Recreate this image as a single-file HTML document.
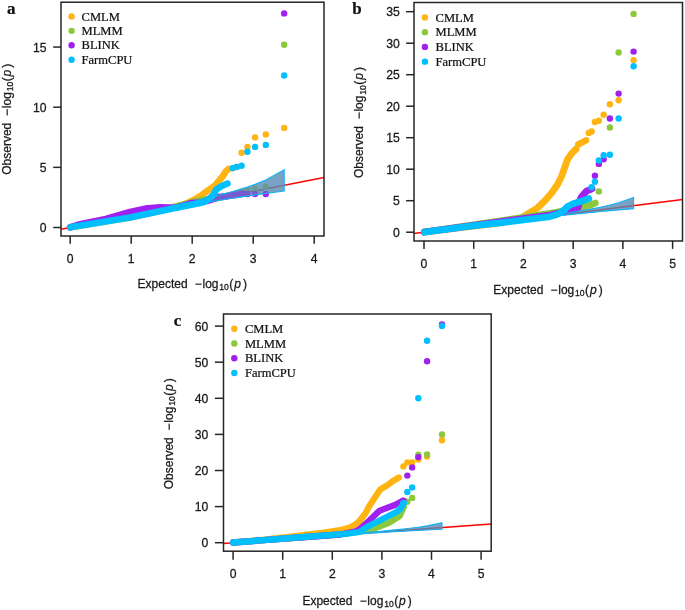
<!DOCTYPE html><html><head><meta charset="utf-8"><style>html,body{margin:0;padding:0;background:#fff;}svg{display:block;will-change:transform;}.t{font-family:"Liberation Sans",sans-serif;fill:#1a1a1a;stroke:#1a1a1a;stroke-width:0.28px;}.s{font-family:"Liberation Serif",serif;fill:#111;stroke:#111;stroke-width:0.22px;}</style></head><body>
<svg width="685" height="610" viewBox="0 0 685 610">
<rect width="685" height="610" fill="#fff"/>
<clipPath id="cla"><rect x="61" y="2.2" width="263" height="233.8"/></clipPath>
<g clip-path="url(#cla)">
<line x1="61" y1="229.31" x2="324" y2="177.45" stroke="#FF0000" stroke-width="1.5"/>
<polyline points="70.2,227.3 130,217.5 182,205.6 190,201.6 196,198.6 201.5,195.4 206,191.8 212,187.8 216,184.5 219.5,180 223,176 226,171 228.6,169" fill="none" stroke="#FFB412" stroke-width="6.6" stroke-linecap="round" stroke-linejoin="round"/>
<circle cx="284.18" cy="127.9" r="3.2" fill="#FFB412"/><circle cx="265.82" cy="134.4" r="3.2" fill="#FFB412"/><circle cx="255.07" cy="137.4" r="3.2" fill="#FFB412"/><circle cx="247.45" cy="146.9" r="3.2" fill="#FFB412"/><circle cx="241.54" cy="152.8" r="3.2" fill="#FFB412"/><circle cx="236.71" cy="167" r="3.2" fill="#FFB412"/><circle cx="232.63" cy="168.2" r="3.2" fill="#FFB412"/>
<polygon points="284.18,169.78 265.82,179.9 255.07,184.25 247.45,186.93 241.54,188.84 236.71,190.32 232.63,191.52 229.09,192.52 225.97,193.38 223.18,194.14 220.65,194.81 218.35,195.41 216.23,195.96 214.27,196.46 212.44,196.92 210.73,197.35 209.12,197.75 206.18,198.48 204.82,198.81 203.52,199.12 201.11,199.7 199.99,199.97 197.87,200.47 195.9,200.93 194.07,201.36 192.37,201.76 190.76,202.13 188.52,202.64 187.12,202.96 185.16,203.4 183.33,203.82 181.62,204.2 180.02,204.56 178.02,205.01 176.16,205.42 174.42,205.8 172.79,206.16 170.88,206.58 169.1,206.97 167.44,207.33 165.57,207.74 163.82,208.12 161.92,208.53 160.14,208.91 158.25,209.31 156.48,209.69 154.62,210.09 152.89,210.46 151.09,210.84 149.4,211.2 147.51,211.6 145.74,211.97 143.95,212.34 142.15,212.72 140.35,213.1 138.55,213.47 136.76,213.85 134.9,214.23 133.16,214.59 131.37,214.97 129.53,215.35 127.73,215.72 125.92,216.09 124.16,216.46 122.33,216.83 120.57,217.2 118.76,217.57 116.97,217.93 115.16,218.31 113.34,218.68 111.55,219.04 109.77,219.41 107.97,219.78 106.15,220.15 104.36,220.51 102.57,220.88 100.76,221.24 98.97,221.61 97.18,221.97 95.37,222.34 93.58,222.7 91.78,223.07 89.98,223.44 88.19,223.8 86.38,224.17 84.58,224.53 82.79,224.9 80.99,225.26 79.19,225.63 77.4,225.99 75.59,226.36 73.8,226.73 72,227.1 70.2,227.5 70.2,227.5 72,227.18 73.8,226.85 75.59,226.51 77.4,226.16 79.19,225.82 80.99,225.48 82.79,225.13 84.58,224.79 86.38,224.44 88.19,224.1 89.98,223.75 91.78,223.41 93.58,223.06 95.37,222.72 97.18,222.38 98.97,222.03 100.76,221.69 102.57,221.35 104.36,221 106.15,220.66 107.97,220.31 109.77,219.97 111.55,219.63 113.34,219.29 115.16,218.95 116.97,218.6 118.76,218.26 120.57,217.92 122.33,217.58 124.16,217.24 125.92,216.91 127.73,216.56 129.53,216.23 131.37,215.88 133.16,215.54 134.9,215.22 136.76,214.87 138.55,214.53 140.35,214.2 142.15,213.86 143.95,213.52 145.74,213.19 147.51,212.86 149.4,212.51 151.09,212.2 152.89,211.87 154.62,211.55 156.48,211.21 158.25,210.88 160.14,210.54 161.92,210.21 163.82,209.87 165.57,209.55 167.44,209.21 169.1,208.91 170.88,208.59 172.79,208.25 174.42,207.96 176.16,207.65 178.02,207.31 180.02,206.96 181.62,206.68 183.33,206.37 185.16,206.05 187.12,205.71 188.52,205.47 190.76,205.08 192.37,204.8 194.07,204.5 195.9,204.19 197.87,203.86 199.99,203.49 201.11,203.3 203.52,202.9 204.82,202.68 206.18,202.45 209.12,201.96 210.73,201.7 212.44,201.42 214.27,201.12 216.23,200.8 218.35,200.46 220.65,200.09 223.18,199.68 225.97,199.24 229.09,198.76 232.63,198.21 236.71,197.59 241.54,196.86 247.45,196 255.07,194.91 265.82,193.43 284.18,191.03" fill="rgba(88,140,182,0.33)" stroke="none"/>
<polyline points="70.2,227.3 150,213 201.3,200 215,198.5 230,195.5 242,192.5" fill="none" stroke="#8CC83C" stroke-width="6.6" stroke-linecap="round" stroke-linejoin="round"/>
<circle cx="284.18" cy="44.7" r="3.2" fill="#8CC83C"/><circle cx="265.82" cy="186.8" r="3.2" fill="#8CC83C"/><circle cx="255.07" cy="188.8" r="3.2" fill="#8CC83C"/><circle cx="247.45" cy="190.1" r="3.2" fill="#8CC83C"/>
<polygon points="284.18,169.78 265.82,179.9 255.07,184.25 247.45,186.93 241.54,188.84 236.71,190.32 232.63,191.52 229.09,192.52 225.97,193.38 223.18,194.14 220.65,194.81 218.35,195.41 216.23,195.96 214.27,196.46 212.44,196.92 210.73,197.35 209.12,197.75 206.18,198.48 204.82,198.81 203.52,199.12 201.11,199.7 199.99,199.97 197.87,200.47 195.9,200.93 194.07,201.36 192.37,201.76 190.76,202.13 188.52,202.64 187.12,202.96 185.16,203.4 183.33,203.82 181.62,204.2 180.02,204.56 178.02,205.01 176.16,205.42 174.42,205.8 172.79,206.16 170.88,206.58 169.1,206.97 167.44,207.33 165.57,207.74 163.82,208.12 161.92,208.53 160.14,208.91 158.25,209.31 156.48,209.69 154.62,210.09 152.89,210.46 151.09,210.84 149.4,211.2 147.51,211.6 145.74,211.97 143.95,212.34 142.15,212.72 140.35,213.1 138.55,213.47 136.76,213.85 134.9,214.23 133.16,214.59 131.37,214.97 129.53,215.35 127.73,215.72 125.92,216.09 124.16,216.46 122.33,216.83 120.57,217.2 118.76,217.57 116.97,217.93 115.16,218.31 113.34,218.68 111.55,219.04 109.77,219.41 107.97,219.78 106.15,220.15 104.36,220.51 102.57,220.88 100.76,221.24 98.97,221.61 97.18,221.97 95.37,222.34 93.58,222.7 91.78,223.07 89.98,223.44 88.19,223.8 86.38,224.17 84.58,224.53 82.79,224.9 80.99,225.26 79.19,225.63 77.4,225.99 75.59,226.36 73.8,226.73 72,227.1 70.2,227.5 70.2,227.5 72,227.18 73.8,226.85 75.59,226.51 77.4,226.16 79.19,225.82 80.99,225.48 82.79,225.13 84.58,224.79 86.38,224.44 88.19,224.1 89.98,223.75 91.78,223.41 93.58,223.06 95.37,222.72 97.18,222.38 98.97,222.03 100.76,221.69 102.57,221.35 104.36,221 106.15,220.66 107.97,220.31 109.77,219.97 111.55,219.63 113.34,219.29 115.16,218.95 116.97,218.6 118.76,218.26 120.57,217.92 122.33,217.58 124.16,217.24 125.92,216.91 127.73,216.56 129.53,216.23 131.37,215.88 133.16,215.54 134.9,215.22 136.76,214.87 138.55,214.53 140.35,214.2 142.15,213.86 143.95,213.52 145.74,213.19 147.51,212.86 149.4,212.51 151.09,212.2 152.89,211.87 154.62,211.55 156.48,211.21 158.25,210.88 160.14,210.54 161.92,210.21 163.82,209.87 165.57,209.55 167.44,209.21 169.1,208.91 170.88,208.59 172.79,208.25 174.42,207.96 176.16,207.65 178.02,207.31 180.02,206.96 181.62,206.68 183.33,206.37 185.16,206.05 187.12,205.71 188.52,205.47 190.76,205.08 192.37,204.8 194.07,204.5 195.9,204.19 197.87,203.86 199.99,203.49 201.11,203.3 203.52,202.9 204.82,202.68 206.18,202.45 209.12,201.96 210.73,201.7 212.44,201.42 214.27,201.12 216.23,200.8 218.35,200.46 220.65,200.09 223.18,199.68 225.97,199.24 229.09,198.76 232.63,198.21 236.71,197.59 241.54,196.86 247.45,196 255.07,194.91 265.82,193.43 284.18,191.03" fill="rgba(88,140,182,0.33)" stroke="none"/>
<polyline points="70.2,227.3 80,224.2 105.9,218.9 130,211.9 147.4,208.3 160.7,207.3 176,207.8 183.1,205.8 191.3,203 200,202.5 208.3,200.5 219,197 230,195.8 244.2,193.6" fill="none" stroke="#A020F0" stroke-width="6.6" stroke-linecap="round" stroke-linejoin="round"/>
<circle cx="284.18" cy="13.4" r="3.2" fill="#A020F0"/><circle cx="265.82" cy="194" r="3.2" fill="#A020F0"/><circle cx="255.07" cy="194" r="3.2" fill="#A020F0"/><circle cx="247.45" cy="194" r="3.2" fill="#A020F0"/><circle cx="241.54" cy="193.6" r="3.2" fill="#A020F0"/>
<polygon points="284.18,169.78 265.82,179.9 255.07,184.25 247.45,186.93 241.54,188.84 236.71,190.32 232.63,191.52 229.09,192.52 225.97,193.38 223.18,194.14 220.65,194.81 218.35,195.41 216.23,195.96 214.27,196.46 212.44,196.92 210.73,197.35 209.12,197.75 206.18,198.48 204.82,198.81 203.52,199.12 201.11,199.7 199.99,199.97 197.87,200.47 195.9,200.93 194.07,201.36 192.37,201.76 190.76,202.13 188.52,202.64 187.12,202.96 185.16,203.4 183.33,203.82 181.62,204.2 180.02,204.56 178.02,205.01 176.16,205.42 174.42,205.8 172.79,206.16 170.88,206.58 169.1,206.97 167.44,207.33 165.57,207.74 163.82,208.12 161.92,208.53 160.14,208.91 158.25,209.31 156.48,209.69 154.62,210.09 152.89,210.46 151.09,210.84 149.4,211.2 147.51,211.6 145.74,211.97 143.95,212.34 142.15,212.72 140.35,213.1 138.55,213.47 136.76,213.85 134.9,214.23 133.16,214.59 131.37,214.97 129.53,215.35 127.73,215.72 125.92,216.09 124.16,216.46 122.33,216.83 120.57,217.2 118.76,217.57 116.97,217.93 115.16,218.31 113.34,218.68 111.55,219.04 109.77,219.41 107.97,219.78 106.15,220.15 104.36,220.51 102.57,220.88 100.76,221.24 98.97,221.61 97.18,221.97 95.37,222.34 93.58,222.7 91.78,223.07 89.98,223.44 88.19,223.8 86.38,224.17 84.58,224.53 82.79,224.9 80.99,225.26 79.19,225.63 77.4,225.99 75.59,226.36 73.8,226.73 72,227.1 70.2,227.5 70.2,227.5 72,227.18 73.8,226.85 75.59,226.51 77.4,226.16 79.19,225.82 80.99,225.48 82.79,225.13 84.58,224.79 86.38,224.44 88.19,224.1 89.98,223.75 91.78,223.41 93.58,223.06 95.37,222.72 97.18,222.38 98.97,222.03 100.76,221.69 102.57,221.35 104.36,221 106.15,220.66 107.97,220.31 109.77,219.97 111.55,219.63 113.34,219.29 115.16,218.95 116.97,218.6 118.76,218.26 120.57,217.92 122.33,217.58 124.16,217.24 125.92,216.91 127.73,216.56 129.53,216.23 131.37,215.88 133.16,215.54 134.9,215.22 136.76,214.87 138.55,214.53 140.35,214.2 142.15,213.86 143.95,213.52 145.74,213.19 147.51,212.86 149.4,212.51 151.09,212.2 152.89,211.87 154.62,211.55 156.48,211.21 158.25,210.88 160.14,210.54 161.92,210.21 163.82,209.87 165.57,209.55 167.44,209.21 169.1,208.91 170.88,208.59 172.79,208.25 174.42,207.96 176.16,207.65 178.02,207.31 180.02,206.96 181.62,206.68 183.33,206.37 185.16,206.05 187.12,205.71 188.52,205.47 190.76,205.08 192.37,204.8 194.07,204.5 195.9,204.19 197.87,203.86 199.99,203.49 201.11,203.3 203.52,202.9 204.82,202.68 206.18,202.45 209.12,201.96 210.73,201.7 212.44,201.42 214.27,201.12 216.23,200.8 218.35,200.46 220.65,200.09 223.18,199.68 225.97,199.24 229.09,198.76 232.63,198.21 236.71,197.59 241.54,196.86 247.45,196 255.07,194.91 265.82,193.43 284.18,191.03" fill="rgba(88,140,182,0.33)" stroke="none"/>
<polygon points="284.18,169.78 265.82,179.9 255.07,184.25 247.45,186.93 241.54,188.84 236.71,190.32 232.63,191.52 229.09,192.52 225.97,193.38 223.18,194.14 220.65,194.81 218.35,195.41 216.23,195.96 214.27,196.46 212.44,196.92 210.73,197.35 209.12,197.75 206.18,198.48 204.82,198.81 203.52,199.12 201.11,199.7 199.99,199.97 197.87,200.47 195.9,200.93 194.07,201.36 192.37,201.76 190.76,202.13 188.52,202.64 187.12,202.96 185.16,203.4 183.33,203.82 181.62,204.2 180.02,204.56 178.02,205.01 176.16,205.42 174.42,205.8 172.79,206.16 170.88,206.58 169.1,206.97 167.44,207.33 165.57,207.74 163.82,208.12 161.92,208.53 160.14,208.91 158.25,209.31 156.48,209.69 154.62,210.09 152.89,210.46 151.09,210.84 149.4,211.2 147.51,211.6 145.74,211.97 143.95,212.34 142.15,212.72 140.35,213.1 138.55,213.47 136.76,213.85 134.9,214.23 133.16,214.59 131.37,214.97 129.53,215.35 127.73,215.72 125.92,216.09 124.16,216.46 122.33,216.83 120.57,217.2 118.76,217.57 116.97,217.93 115.16,218.31 113.34,218.68 111.55,219.04 109.77,219.41 107.97,219.78 106.15,220.15 104.36,220.51 102.57,220.88 100.76,221.24 98.97,221.61 97.18,221.97 95.37,222.34 93.58,222.7 91.78,223.07 89.98,223.44 88.19,223.8 86.38,224.17 84.58,224.53 82.79,224.9 80.99,225.26 79.19,225.63 77.4,225.99 75.59,226.36 73.8,226.73 72,227.1 70.2,227.5 70.2,227.5 72,227.18 73.8,226.85 75.59,226.51 77.4,226.16 79.19,225.82 80.99,225.48 82.79,225.13 84.58,224.79 86.38,224.44 88.19,224.1 89.98,223.75 91.78,223.41 93.58,223.06 95.37,222.72 97.18,222.38 98.97,222.03 100.76,221.69 102.57,221.35 104.36,221 106.15,220.66 107.97,220.31 109.77,219.97 111.55,219.63 113.34,219.29 115.16,218.95 116.97,218.6 118.76,218.26 120.57,217.92 122.33,217.58 124.16,217.24 125.92,216.91 127.73,216.56 129.53,216.23 131.37,215.88 133.16,215.54 134.9,215.22 136.76,214.87 138.55,214.53 140.35,214.2 142.15,213.86 143.95,213.52 145.74,213.19 147.51,212.86 149.4,212.51 151.09,212.2 152.89,211.87 154.62,211.55 156.48,211.21 158.25,210.88 160.14,210.54 161.92,210.21 163.82,209.87 165.57,209.55 167.44,209.21 169.1,208.91 170.88,208.59 172.79,208.25 174.42,207.96 176.16,207.65 178.02,207.31 180.02,206.96 181.62,206.68 183.33,206.37 185.16,206.05 187.12,205.71 188.52,205.47 190.76,205.08 192.37,204.8 194.07,204.5 195.9,204.19 197.87,203.86 199.99,203.49 201.11,203.3 203.52,202.9 204.82,202.68 206.18,202.45 209.12,201.96 210.73,201.7 212.44,201.42 214.27,201.12 216.23,200.8 218.35,200.46 220.65,200.09 223.18,199.68 225.97,199.24 229.09,198.76 232.63,198.21 236.71,197.59 241.54,196.86 247.45,196 255.07,194.91 265.82,193.43 284.18,191.03" fill="rgba(88,140,182,0.33)" stroke="#12B4F4" stroke-width="1.1"/>
<polyline points="70.2,227.3 130,217.4 175,208 190,205.1 200,203.1 205,201.5 210.5,197.6 214,194 216.2,189.5 221.4,186.3 227.5,183.6" fill="none" stroke="#00BFFF" stroke-width="6.6" stroke-linecap="round" stroke-linejoin="round"/>
<circle cx="284.18" cy="75.4" r="3.2" fill="#00BFFF"/><circle cx="265.82" cy="144.9" r="3.2" fill="#00BFFF"/><circle cx="255.07" cy="146.9" r="3.2" fill="#00BFFF"/><circle cx="247.45" cy="151.7" r="3.2" fill="#00BFFF"/><circle cx="241.54" cy="165.7" r="3.2" fill="#00BFFF"/><circle cx="236.71" cy="166.9" r="3.2" fill="#00BFFF"/><circle cx="232.63" cy="168.1" r="3.2" fill="#00BFFF"/>
</g>
<rect x="61" y="2.2" width="263" height="233.8" fill="none" stroke="#262626" stroke-width="1.5"/>
<line x1="70.2" y1="236" x2="70.2" y2="243.8" stroke="#262626" stroke-width="1.5"/>
<text class="t" x="70.2" y="262.6" font-size="12.2" text-anchor="middle">0</text>
<line x1="131.2" y1="236" x2="131.2" y2="243.8" stroke="#262626" stroke-width="1.5"/>
<text class="t" x="131.2" y="262.6" font-size="12.2" text-anchor="middle">1</text>
<line x1="192.2" y1="236" x2="192.2" y2="243.8" stroke="#262626" stroke-width="1.5"/>
<text class="t" x="192.2" y="262.6" font-size="12.2" text-anchor="middle">2</text>
<line x1="253.2" y1="236" x2="253.2" y2="243.8" stroke="#262626" stroke-width="1.5"/>
<text class="t" x="253.2" y="262.6" font-size="12.2" text-anchor="middle">3</text>
<line x1="314.2" y1="236" x2="314.2" y2="243.8" stroke="#262626" stroke-width="1.5"/>
<text class="t" x="314.2" y="262.6" font-size="12.2" text-anchor="middle">4</text>
<line x1="53.2" y1="227.5" x2="61" y2="227.5" stroke="#262626" stroke-width="1.5"/>
<text class="t" x="46.6" y="232.1" font-size="12.2" text-anchor="end">0</text>
<line x1="53.2" y1="167.35" x2="61" y2="167.35" stroke="#262626" stroke-width="1.5"/>
<text class="t" x="46.6" y="171.95" font-size="12.2" text-anchor="end">5</text>
<line x1="53.2" y1="107.2" x2="61" y2="107.2" stroke="#262626" stroke-width="1.5"/>
<text class="t" x="46.6" y="111.8" font-size="12.2" text-anchor="end">10</text>
<line x1="53.2" y1="47.05" x2="61" y2="47.05" stroke="#262626" stroke-width="1.5"/>
<text class="t" x="46.6" y="51.65" font-size="12.2" text-anchor="end">15</text>
<g class="t" font-size="12.0" transform="translate(138.5,288)"><text x="-0.98" y="0">Expected</text><text x="56.31" y="0">−</text><text x="64" y="0">log</text><text x="80.85" y="2.3" font-size="8.6">10</text><text x="90.86" y="0">(</text><text x="95.7" y="0" font-style="italic">p</text><text x="104.45" y="0">)</text></g>
<g class="t" font-size="12.0" transform="translate(11.1,174.2) rotate(-90)"><text x="-0.56" y="0">Observed</text><text x="58.31" y="0">−</text><text x="66" y="0">log</text><text x="82.85" y="2.3" font-size="8.6">10</text><text x="92.86" y="0">(</text><text x="97.7" y="0" font-style="italic">p</text><text x="106.45" y="0">)</text></g>
<circle cx="71.6" cy="16.4" r="3.2" fill="#FFB412"/>
<text class="s" font-size="12.2" transform="translate(81.5,20.6) scale(1.03,1)">CMLM</text>
<circle cx="71.6" cy="30.83" r="3.2" fill="#8CC83C"/>
<text class="s" font-size="12.2" transform="translate(81.5,35.03) scale(1.03,1)">MLMM</text>
<circle cx="71.6" cy="45.26" r="3.2" fill="#A020F0"/>
<text class="s" font-size="12.2" transform="translate(81.5,49.46) scale(1.03,1)">BLINK</text>
<circle cx="71.6" cy="59.69" r="3.2" fill="#00BFFF"/>
<text class="s" font-size="12.2" transform="translate(81.5,63.89) scale(1.03,1)">FarmCPU</text>
<text class="s" x="6.9" y="13.6" font-size="17" font-weight="bold">a</text>
<clipPath id="clb"><rect x="414" y="2.5" width="268.5" height="238.5"/></clipPath>
<g clip-path="url(#clb)">
<line x1="414" y1="233.47" x2="682.5" y2="199.45" stroke="#FF0000" stroke-width="1.5"/>
<polyline points="424.4,232 500,222.8 520,218.8 527,214.5 538,207.5 545.5,200 552,192.5 557.5,184.5 561.5,176.5 564.5,168 567.5,159.5 571.5,153.6 576.1,149" fill="none" stroke="#FFB412" stroke-width="6.8" stroke-linecap="round" stroke-linejoin="round"/>
<circle cx="633.6" cy="60.1" r="3.2" fill="#FFB412"/><circle cx="618.64" cy="100.2" r="3.2" fill="#FFB412"/><circle cx="609.88" cy="104.3" r="3.2" fill="#FFB412"/><circle cx="603.67" cy="114.7" r="3.2" fill="#FFB412"/><circle cx="598.85" cy="120.8" r="3.2" fill="#FFB412"/><circle cx="594.91" cy="122" r="3.2" fill="#FFB412"/><circle cx="591.58" cy="131.5" r="3.2" fill="#FFB412"/><circle cx="588.7" cy="132.9" r="3.2" fill="#FFB412"/><circle cx="586.16" cy="140.3" r="3.2" fill="#FFB412"/><circle cx="583.88" cy="141.5" r="3.2" fill="#FFB412"/><circle cx="581.82" cy="142.6" r="3.2" fill="#FFB412"/><circle cx="579.95" cy="143.5" r="3.2" fill="#FFB412"/><circle cx="578.22" cy="144.4" r="3.2" fill="#FFB412"/>
<polygon points="633.6,197.51 618.64,202.81 609.88,205.09 603.67,206.5 598.85,207.5 594.91,208.27 591.58,208.9 588.7,209.42 586.16,209.87 583.88,210.27 581.82,210.62 579.95,210.94 578.22,211.22 576.62,211.49 575.13,211.73 573.73,211.95 572.42,212.16 570.02,212.54 568.92,212.71 566.86,213.03 564.98,213.32 563.25,213.58 561.65,213.82 559.45,214.15 558.1,214.35 556.22,214.63 554.5,214.89 552.39,215.19 550.93,215.4 549.13,215.66 547.47,215.9 545.56,216.17 543.8,216.42 541.86,216.7 540.37,216.91 538.45,217.17 536.68,217.42 535.04,217.65 533.11,217.92 531.52,218.13 529.69,218.39 527.84,218.64 526.14,218.87 524.42,219.1 522.58,219.35 520.88,219.58 519.09,219.82 517.33,220.06 515.62,220.29 513.87,220.53 512.08,220.76 510.3,221 508.51,221.24 506.81,221.47 505,221.7 503.28,221.93 501.49,222.17 499.76,222.4 497.99,222.63 496.21,222.86 494.45,223.09 492.71,223.32 490.94,223.55 489.18,223.78 487.4,224.02 485.64,224.24 483.89,224.47 482.13,224.7 480.36,224.93 478.6,225.16 476.84,225.39 475.08,225.62 473.32,225.85 471.56,226.07 469.79,226.3 468.03,226.53 466.27,226.76 464.51,226.98 462.75,227.21 460.99,227.44 459.23,227.66 457.47,227.89 455.71,228.12 453.94,228.34 452.18,228.57 450.42,228.8 448.66,229.02 446.9,229.25 445.14,229.48 443.37,229.7 441.61,229.93 439.85,230.15 438.09,230.38 436.33,230.61 434.57,230.83 432.81,231.06 431.04,231.29 429.28,231.51 427.52,231.74 425.76,231.97 424,232.2 424,232.2 425.76,231.99 427.52,231.77 429.28,231.55 431.04,231.33 432.81,231.11 434.57,230.89 436.33,230.67 438.09,230.45 439.85,230.23 441.61,230.01 443.37,229.79 445.14,229.57 446.9,229.35 448.66,229.13 450.42,228.91 452.18,228.69 453.94,228.47 455.71,228.25 457.47,228.03 459.23,227.81 460.99,227.59 462.75,227.37 464.51,227.15 466.27,226.93 468.03,226.71 469.79,226.49 471.56,226.27 473.32,226.05 475.08,225.84 476.84,225.62 478.6,225.4 480.36,225.18 482.13,224.96 483.89,224.75 485.64,224.53 487.4,224.31 489.18,224.09 490.94,223.88 492.71,223.66 494.45,223.45 496.21,223.23 497.99,223.01 499.76,222.8 501.49,222.58 503.28,222.37 505,222.16 506.81,221.94 508.51,221.73 510.3,221.51 512.08,221.3 513.87,221.08 515.62,220.87 517.33,220.67 519.09,220.46 520.88,220.24 522.58,220.04 524.42,219.82 526.14,219.62 527.84,219.41 529.69,219.2 531.52,218.98 533.11,218.79 535.04,218.57 536.68,218.38 538.45,218.17 540.37,217.95 541.86,217.77 543.8,217.55 545.56,217.35 547.47,217.13 549.13,216.94 550.93,216.74 552.39,216.57 554.5,216.33 556.22,216.14 558.1,215.93 559.45,215.78 561.65,215.54 563.25,215.36 564.98,215.17 566.86,214.97 568.92,214.75 570.02,214.63 572.42,214.37 573.73,214.23 575.13,214.08 576.62,213.93 578.22,213.76 579.95,213.58 581.82,213.39 583.88,213.18 586.16,212.95 588.7,212.69 591.58,212.4 594.91,212.08 598.85,211.7 603.67,211.24 609.88,210.67 618.64,209.9 633.6,208.64" fill="rgba(88,140,182,0.33)" stroke="none"/>
<polyline points="424.4,232 470,225.3 550,213.4 560,211.5 570,209.8 583.9,206.8 589.6,205.2 595.3,203.1" fill="none" stroke="#8CC83C" stroke-width="6.8" stroke-linecap="round" stroke-linejoin="round"/>
<circle cx="633.6" cy="13.9" r="3.2" fill="#8CC83C"/><circle cx="618.64" cy="52.5" r="3.2" fill="#8CC83C"/><circle cx="609.88" cy="127.5" r="3.2" fill="#8CC83C"/><circle cx="598.85" cy="191.4" r="3.2" fill="#8CC83C"/>
<polygon points="633.6,197.51 618.64,202.81 609.88,205.09 603.67,206.5 598.85,207.5 594.91,208.27 591.58,208.9 588.7,209.42 586.16,209.87 583.88,210.27 581.82,210.62 579.95,210.94 578.22,211.22 576.62,211.49 575.13,211.73 573.73,211.95 572.42,212.16 570.02,212.54 568.92,212.71 566.86,213.03 564.98,213.32 563.25,213.58 561.65,213.82 559.45,214.15 558.1,214.35 556.22,214.63 554.5,214.89 552.39,215.19 550.93,215.4 549.13,215.66 547.47,215.9 545.56,216.17 543.8,216.42 541.86,216.7 540.37,216.91 538.45,217.17 536.68,217.42 535.04,217.65 533.11,217.92 531.52,218.13 529.69,218.39 527.84,218.64 526.14,218.87 524.42,219.1 522.58,219.35 520.88,219.58 519.09,219.82 517.33,220.06 515.62,220.29 513.87,220.53 512.08,220.76 510.3,221 508.51,221.24 506.81,221.47 505,221.7 503.28,221.93 501.49,222.17 499.76,222.4 497.99,222.63 496.21,222.86 494.45,223.09 492.71,223.32 490.94,223.55 489.18,223.78 487.4,224.02 485.64,224.24 483.89,224.47 482.13,224.7 480.36,224.93 478.6,225.16 476.84,225.39 475.08,225.62 473.32,225.85 471.56,226.07 469.79,226.3 468.03,226.53 466.27,226.76 464.51,226.98 462.75,227.21 460.99,227.44 459.23,227.66 457.47,227.89 455.71,228.12 453.94,228.34 452.18,228.57 450.42,228.8 448.66,229.02 446.9,229.25 445.14,229.48 443.37,229.7 441.61,229.93 439.85,230.15 438.09,230.38 436.33,230.61 434.57,230.83 432.81,231.06 431.04,231.29 429.28,231.51 427.52,231.74 425.76,231.97 424,232.2 424,232.2 425.76,231.99 427.52,231.77 429.28,231.55 431.04,231.33 432.81,231.11 434.57,230.89 436.33,230.67 438.09,230.45 439.85,230.23 441.61,230.01 443.37,229.79 445.14,229.57 446.9,229.35 448.66,229.13 450.42,228.91 452.18,228.69 453.94,228.47 455.71,228.25 457.47,228.03 459.23,227.81 460.99,227.59 462.75,227.37 464.51,227.15 466.27,226.93 468.03,226.71 469.79,226.49 471.56,226.27 473.32,226.05 475.08,225.84 476.84,225.62 478.6,225.4 480.36,225.18 482.13,224.96 483.89,224.75 485.64,224.53 487.4,224.31 489.18,224.09 490.94,223.88 492.71,223.66 494.45,223.45 496.21,223.23 497.99,223.01 499.76,222.8 501.49,222.58 503.28,222.37 505,222.16 506.81,221.94 508.51,221.73 510.3,221.51 512.08,221.3 513.87,221.08 515.62,220.87 517.33,220.67 519.09,220.46 520.88,220.24 522.58,220.04 524.42,219.82 526.14,219.62 527.84,219.41 529.69,219.2 531.52,218.98 533.11,218.79 535.04,218.57 536.68,218.38 538.45,218.17 540.37,217.95 541.86,217.77 543.8,217.55 545.56,217.35 547.47,217.13 549.13,216.94 550.93,216.74 552.39,216.57 554.5,216.33 556.22,216.14 558.1,215.93 559.45,215.78 561.65,215.54 563.25,215.36 564.98,215.17 566.86,214.97 568.92,214.75 570.02,214.63 572.42,214.37 573.73,214.23 575.13,214.08 576.62,213.93 578.22,213.76 579.95,213.58 581.82,213.39 583.88,213.18 586.16,212.95 588.7,212.69 591.58,212.4 594.91,212.08 598.85,211.7 603.67,211.24 609.88,210.67 618.64,209.9 633.6,208.64" fill="rgba(88,140,182,0.33)" stroke="none"/>
<polyline points="424.4,232 470,225.8 550,215 566,211.5 573,209.5 578,207.5 580,200 581.4,197 586.3,191.2 592,188.8" fill="none" stroke="#A020F0" stroke-width="6.8" stroke-linecap="round" stroke-linejoin="round"/>
<circle cx="633.6" cy="51.6" r="3.2" fill="#A020F0"/><circle cx="618.64" cy="93.6" r="3.2" fill="#A020F0"/><circle cx="609.88" cy="118.5" r="3.2" fill="#A020F0"/><circle cx="603.67" cy="159.3" r="3.2" fill="#A020F0"/><circle cx="598.85" cy="163.9" r="3.2" fill="#A020F0"/><circle cx="594.91" cy="175.7" r="3.2" fill="#A020F0"/>
<polygon points="633.6,197.51 618.64,202.81 609.88,205.09 603.67,206.5 598.85,207.5 594.91,208.27 591.58,208.9 588.7,209.42 586.16,209.87 583.88,210.27 581.82,210.62 579.95,210.94 578.22,211.22 576.62,211.49 575.13,211.73 573.73,211.95 572.42,212.16 570.02,212.54 568.92,212.71 566.86,213.03 564.98,213.32 563.25,213.58 561.65,213.82 559.45,214.15 558.1,214.35 556.22,214.63 554.5,214.89 552.39,215.19 550.93,215.4 549.13,215.66 547.47,215.9 545.56,216.17 543.8,216.42 541.86,216.7 540.37,216.91 538.45,217.17 536.68,217.42 535.04,217.65 533.11,217.92 531.52,218.13 529.69,218.39 527.84,218.64 526.14,218.87 524.42,219.1 522.58,219.35 520.88,219.58 519.09,219.82 517.33,220.06 515.62,220.29 513.87,220.53 512.08,220.76 510.3,221 508.51,221.24 506.81,221.47 505,221.7 503.28,221.93 501.49,222.17 499.76,222.4 497.99,222.63 496.21,222.86 494.45,223.09 492.71,223.32 490.94,223.55 489.18,223.78 487.4,224.02 485.64,224.24 483.89,224.47 482.13,224.7 480.36,224.93 478.6,225.16 476.84,225.39 475.08,225.62 473.32,225.85 471.56,226.07 469.79,226.3 468.03,226.53 466.27,226.76 464.51,226.98 462.75,227.21 460.99,227.44 459.23,227.66 457.47,227.89 455.71,228.12 453.94,228.34 452.18,228.57 450.42,228.8 448.66,229.02 446.9,229.25 445.14,229.48 443.37,229.7 441.61,229.93 439.85,230.15 438.09,230.38 436.33,230.61 434.57,230.83 432.81,231.06 431.04,231.29 429.28,231.51 427.52,231.74 425.76,231.97 424,232.2 424,232.2 425.76,231.99 427.52,231.77 429.28,231.55 431.04,231.33 432.81,231.11 434.57,230.89 436.33,230.67 438.09,230.45 439.85,230.23 441.61,230.01 443.37,229.79 445.14,229.57 446.9,229.35 448.66,229.13 450.42,228.91 452.18,228.69 453.94,228.47 455.71,228.25 457.47,228.03 459.23,227.81 460.99,227.59 462.75,227.37 464.51,227.15 466.27,226.93 468.03,226.71 469.79,226.49 471.56,226.27 473.32,226.05 475.08,225.84 476.84,225.62 478.6,225.4 480.36,225.18 482.13,224.96 483.89,224.75 485.64,224.53 487.4,224.31 489.18,224.09 490.94,223.88 492.71,223.66 494.45,223.45 496.21,223.23 497.99,223.01 499.76,222.8 501.49,222.58 503.28,222.37 505,222.16 506.81,221.94 508.51,221.73 510.3,221.51 512.08,221.3 513.87,221.08 515.62,220.87 517.33,220.67 519.09,220.46 520.88,220.24 522.58,220.04 524.42,219.82 526.14,219.62 527.84,219.41 529.69,219.2 531.52,218.98 533.11,218.79 535.04,218.57 536.68,218.38 538.45,218.17 540.37,217.95 541.86,217.77 543.8,217.55 545.56,217.35 547.47,217.13 549.13,216.94 550.93,216.74 552.39,216.57 554.5,216.33 556.22,216.14 558.1,215.93 559.45,215.78 561.65,215.54 563.25,215.36 564.98,215.17 566.86,214.97 568.92,214.75 570.02,214.63 572.42,214.37 573.73,214.23 575.13,214.08 576.62,213.93 578.22,213.76 579.95,213.58 581.82,213.39 583.88,213.18 586.16,212.95 588.7,212.69 591.58,212.4 594.91,212.08 598.85,211.7 603.67,211.24 609.88,210.67 618.64,209.9 633.6,208.64" fill="rgba(88,140,182,0.33)" stroke="none"/>
<polygon points="633.6,197.51 618.64,202.81 609.88,205.09 603.67,206.5 598.85,207.5 594.91,208.27 591.58,208.9 588.7,209.42 586.16,209.87 583.88,210.27 581.82,210.62 579.95,210.94 578.22,211.22 576.62,211.49 575.13,211.73 573.73,211.95 572.42,212.16 570.02,212.54 568.92,212.71 566.86,213.03 564.98,213.32 563.25,213.58 561.65,213.82 559.45,214.15 558.1,214.35 556.22,214.63 554.5,214.89 552.39,215.19 550.93,215.4 549.13,215.66 547.47,215.9 545.56,216.17 543.8,216.42 541.86,216.7 540.37,216.91 538.45,217.17 536.68,217.42 535.04,217.65 533.11,217.92 531.52,218.13 529.69,218.39 527.84,218.64 526.14,218.87 524.42,219.1 522.58,219.35 520.88,219.58 519.09,219.82 517.33,220.06 515.62,220.29 513.87,220.53 512.08,220.76 510.3,221 508.51,221.24 506.81,221.47 505,221.7 503.28,221.93 501.49,222.17 499.76,222.4 497.99,222.63 496.21,222.86 494.45,223.09 492.71,223.32 490.94,223.55 489.18,223.78 487.4,224.02 485.64,224.24 483.89,224.47 482.13,224.7 480.36,224.93 478.6,225.16 476.84,225.39 475.08,225.62 473.32,225.85 471.56,226.07 469.79,226.3 468.03,226.53 466.27,226.76 464.51,226.98 462.75,227.21 460.99,227.44 459.23,227.66 457.47,227.89 455.71,228.12 453.94,228.34 452.18,228.57 450.42,228.8 448.66,229.02 446.9,229.25 445.14,229.48 443.37,229.7 441.61,229.93 439.85,230.15 438.09,230.38 436.33,230.61 434.57,230.83 432.81,231.06 431.04,231.29 429.28,231.51 427.52,231.74 425.76,231.97 424,232.2 424,232.2 425.76,231.99 427.52,231.77 429.28,231.55 431.04,231.33 432.81,231.11 434.57,230.89 436.33,230.67 438.09,230.45 439.85,230.23 441.61,230.01 443.37,229.79 445.14,229.57 446.9,229.35 448.66,229.13 450.42,228.91 452.18,228.69 453.94,228.47 455.71,228.25 457.47,228.03 459.23,227.81 460.99,227.59 462.75,227.37 464.51,227.15 466.27,226.93 468.03,226.71 469.79,226.49 471.56,226.27 473.32,226.05 475.08,225.84 476.84,225.62 478.6,225.4 480.36,225.18 482.13,224.96 483.89,224.75 485.64,224.53 487.4,224.31 489.18,224.09 490.94,223.88 492.71,223.66 494.45,223.45 496.21,223.23 497.99,223.01 499.76,222.8 501.49,222.58 503.28,222.37 505,222.16 506.81,221.94 508.51,221.73 510.3,221.51 512.08,221.3 513.87,221.08 515.62,220.87 517.33,220.67 519.09,220.46 520.88,220.24 522.58,220.04 524.42,219.82 526.14,219.62 527.84,219.41 529.69,219.2 531.52,218.98 533.11,218.79 535.04,218.57 536.68,218.38 538.45,218.17 540.37,217.95 541.86,217.77 543.8,217.55 545.56,217.35 547.47,217.13 549.13,216.94 550.93,216.74 552.39,216.57 554.5,216.33 556.22,216.14 558.1,215.93 559.45,215.78 561.65,215.54 563.25,215.36 564.98,215.17 566.86,214.97 568.92,214.75 570.02,214.63 572.42,214.37 573.73,214.23 575.13,214.08 576.62,213.93 578.22,213.76 579.95,213.58 581.82,213.39 583.88,213.18 586.16,212.95 588.7,212.69 591.58,212.4 594.91,212.08 598.85,211.7 603.67,211.24 609.88,210.67 618.64,209.9 633.6,208.64" fill="rgba(88,140,182,0.33)" stroke="#12B4F4" stroke-width="1.1"/>
<polyline points="424.4,232.2 470,226.2 500,222.8 550,216.6 556,214.8 560,213 565,209.3 567.5,206.5 573.2,203.8 581.4,201.2 588.8,198.6" fill="none" stroke="#00BFFF" stroke-width="6.8" stroke-linecap="round" stroke-linejoin="round"/>
<circle cx="633.6" cy="66.2" r="3.2" fill="#00BFFF"/><circle cx="618.64" cy="118.5" r="3.2" fill="#00BFFF"/><circle cx="609.88" cy="154.7" r="3.2" fill="#00BFFF"/><circle cx="603.67" cy="155.3" r="3.2" fill="#00BFFF"/><circle cx="598.85" cy="160.4" r="3.2" fill="#00BFFF"/><circle cx="594.91" cy="181.8" r="3.2" fill="#00BFFF"/><circle cx="591.58" cy="187.3" r="3.2" fill="#00BFFF"/>
</g>
<rect x="414" y="2.5" width="268.5" height="238.5" fill="none" stroke="#262626" stroke-width="1.5"/>
<line x1="424" y1="241" x2="424" y2="248.9" stroke="#262626" stroke-width="1.5"/>
<text class="t" x="424" y="268.2" font-size="12.2" text-anchor="middle">0</text>
<line x1="473.72" y1="241" x2="473.72" y2="248.9" stroke="#262626" stroke-width="1.5"/>
<text class="t" x="473.72" y="268.2" font-size="12.2" text-anchor="middle">1</text>
<line x1="523.44" y1="241" x2="523.44" y2="248.9" stroke="#262626" stroke-width="1.5"/>
<text class="t" x="523.44" y="268.2" font-size="12.2" text-anchor="middle">2</text>
<line x1="573.16" y1="241" x2="573.16" y2="248.9" stroke="#262626" stroke-width="1.5"/>
<text class="t" x="573.16" y="268.2" font-size="12.2" text-anchor="middle">3</text>
<line x1="622.88" y1="241" x2="622.88" y2="248.9" stroke="#262626" stroke-width="1.5"/>
<text class="t" x="622.88" y="268.2" font-size="12.2" text-anchor="middle">4</text>
<line x1="672.6" y1="241" x2="672.6" y2="248.9" stroke="#262626" stroke-width="1.5"/>
<text class="t" x="672.6" y="268.2" font-size="12.2" text-anchor="middle">5</text>
<line x1="406.1" y1="232.2" x2="414" y2="232.2" stroke="#262626" stroke-width="1.5"/>
<text class="t" x="399.8" y="236.8" font-size="12.2" text-anchor="end">0</text>
<line x1="406.1" y1="200.7" x2="414" y2="200.7" stroke="#262626" stroke-width="1.5"/>
<text class="t" x="399.8" y="205.3" font-size="12.2" text-anchor="end">5</text>
<line x1="406.1" y1="169.2" x2="414" y2="169.2" stroke="#262626" stroke-width="1.5"/>
<text class="t" x="399.8" y="173.8" font-size="12.2" text-anchor="end">10</text>
<line x1="406.1" y1="137.7" x2="414" y2="137.7" stroke="#262626" stroke-width="1.5"/>
<text class="t" x="399.8" y="142.3" font-size="12.2" text-anchor="end">15</text>
<line x1="406.1" y1="106.2" x2="414" y2="106.2" stroke="#262626" stroke-width="1.5"/>
<text class="t" x="399.8" y="110.8" font-size="12.2" text-anchor="end">20</text>
<line x1="406.1" y1="74.7" x2="414" y2="74.7" stroke="#262626" stroke-width="1.5"/>
<text class="t" x="399.8" y="79.3" font-size="12.2" text-anchor="end">25</text>
<line x1="406.1" y1="43.2" x2="414" y2="43.2" stroke="#262626" stroke-width="1.5"/>
<text class="t" x="399.8" y="47.8" font-size="12.2" text-anchor="end">30</text>
<line x1="406.1" y1="11.7" x2="414" y2="11.7" stroke="#262626" stroke-width="1.5"/>
<text class="t" x="399.8" y="16.3" font-size="12.2" text-anchor="end">35</text>
<g class="t" font-size="12.0" transform="translate(494.25,293.8)"><text x="-0.98" y="0">Expected</text><text x="56.31" y="0">−</text><text x="64" y="0">log</text><text x="80.85" y="2.3" font-size="8.6">10</text><text x="90.86" y="0">(</text><text x="95.7" y="0" font-style="italic">p</text><text x="104.45" y="0">)</text></g>
<g class="t" font-size="12.0" transform="translate(363.4,177.55) rotate(-90)"><text x="-0.56" y="0">Observed</text><text x="58.31" y="0">−</text><text x="66" y="0">log</text><text x="82.85" y="2.3" font-size="8.6">10</text><text x="92.86" y="0">(</text><text x="97.7" y="0" font-style="italic">p</text><text x="106.45" y="0">)</text></g>
<circle cx="424.9" cy="17.4" r="3.2" fill="#FFB412"/>
<text class="s" font-size="12.2" transform="translate(435.5,21.6) scale(1.03,1)">CMLM</text>
<circle cx="424.9" cy="32.15" r="3.2" fill="#8CC83C"/>
<text class="s" font-size="12.2" transform="translate(435.5,36.35) scale(1.03,1)">MLMM</text>
<circle cx="424.9" cy="46.9" r="3.2" fill="#A020F0"/>
<text class="s" font-size="12.2" transform="translate(435.5,51.1) scale(1.03,1)">BLINK</text>
<circle cx="424.9" cy="61.65" r="3.2" fill="#00BFFF"/>
<text class="s" font-size="12.2" transform="translate(435.5,65.85) scale(1.03,1)">FarmCPU</text>
<text class="s" x="352.2" y="14.1" font-size="17" font-weight="bold">b</text>
<clipPath id="clc"><rect x="223.5" y="314" width="267.7" height="237.2"/></clipPath>
<g clip-path="url(#clc)">
<line x1="223.5" y1="543.4" x2="491.2" y2="523.91" stroke="#FF0000" stroke-width="1.5"/>
<polyline points="233.2,542.3 262,540 290.7,536.6 323.5,532.6 340,530.2 349.8,527.5 355,524.8 359.5,521 365.4,513.5 369.3,506 375.2,497 380.2,489.5 387,485.5 393,481 398.9,477.5" fill="none" stroke="#FFB412" stroke-width="6.3" stroke-linecap="round" stroke-linejoin="round"/>
<circle cx="442" cy="440.2" r="3.2" fill="#FFB412"/><circle cx="427.07" cy="456.6" r="3.2" fill="#FFB412"/><circle cx="418.34" cy="459.5" r="3.2" fill="#FFB412"/><circle cx="412.14" cy="462.5" r="3.2" fill="#FFB412"/><circle cx="407.34" cy="462.5" r="3.2" fill="#FFB412"/><circle cx="403.41" cy="466.4" r="3.2" fill="#FFB412"/>
<polygon points="442,522.84 427.07,525.87 418.34,527.18 412.14,527.98 407.34,528.56 403.41,529 400.09,529.36 397.21,529.66 394.67,529.92 392.4,530.15 390.35,530.35 388.48,530.53 386.75,530.69 385.16,530.84 383.67,530.98 382.28,531.11 380.97,531.23 378.58,531.45 377.47,531.55 375.42,531.73 373.55,531.9 371.82,532.05 370.23,532.18 368.03,532.37 366.69,532.49 364.81,532.65 363.09,532.79 361.49,532.93 359.53,533.09 357.74,533.24 356.08,533.37 354.17,533.53 352.42,533.67 350.8,533.8 349,533.95 347.08,534.1 345.56,534.23 343.68,534.38 341.96,534.51 340.17,534.65 338.35,534.8 336.66,534.93 334.95,535.06 333.23,535.2 331.37,535.34 329.67,535.48 327.87,535.61 326.12,535.75 324.4,535.88 322.64,536.02 320.86,536.15 319.14,536.29 317.35,536.42 315.64,536.55 313.88,536.69 312.1,536.82 310.36,536.95 308.57,537.09 306.84,537.22 305.09,537.35 303.33,537.49 301.58,537.62 299.81,537.75 298.07,537.88 296.3,538.01 294.54,538.15 292.78,538.28 291.03,538.41 289.28,538.54 287.52,538.67 285.76,538.8 284.02,538.93 282.25,539.06 280.5,539.19 278.74,539.32 276.99,539.45 275.23,539.58 273.48,539.71 271.72,539.84 269.97,539.97 268.21,540.1 266.45,540.23 264.7,540.36 262.94,540.49 261.19,540.62 259.43,540.75 257.68,540.88 255.92,541.01 254.17,541.14 252.41,541.27 250.65,541.4 248.9,541.53 247.14,541.66 245.39,541.79 243.63,541.92 241.88,542.05 240.12,542.18 238.37,542.31 236.61,542.44 234.86,542.57 233.1,542.7 233.1,542.7 234.86,542.58 236.61,542.45 238.37,542.33 240.12,542.2 241.88,542.08 243.63,541.95 245.39,541.82 247.14,541.7 248.9,541.57 250.65,541.44 252.41,541.32 254.17,541.19 255.92,541.07 257.68,540.94 259.43,540.81 261.19,540.69 262.94,540.56 264.7,540.44 266.45,540.31 268.21,540.19 269.97,540.06 271.72,539.93 273.48,539.81 275.23,539.68 276.99,539.56 278.74,539.43 280.5,539.31 282.25,539.18 284.02,539.06 285.76,538.93 287.52,538.81 289.28,538.68 291.03,538.56 292.78,538.43 294.54,538.31 296.3,538.18 298.07,538.06 299.81,537.94 301.58,537.81 303.33,537.69 305.09,537.56 306.84,537.44 308.57,537.32 310.36,537.19 312.1,537.07 313.88,536.95 315.64,536.83 317.35,536.71 319.14,536.58 320.86,536.46 322.64,536.34 324.4,536.22 326.12,536.1 327.87,535.98 329.67,535.85 331.37,535.74 333.23,535.61 334.95,535.49 336.66,535.38 338.35,535.26 340.17,535.14 341.96,535.02 343.68,534.9 345.56,534.78 347.08,534.67 349,534.55 350.8,534.43 352.42,534.32 354.17,534.2 356.08,534.08 357.74,533.97 359.53,533.85 361.49,533.73 363.09,533.62 364.81,533.51 366.69,533.39 368.03,533.31 370.23,533.17 371.82,533.07 373.55,532.96 375.42,532.84 377.47,532.71 378.58,532.64 380.97,532.5 382.28,532.42 383.67,532.33 385.16,532.24 386.75,532.15 388.48,532.04 390.35,531.93 392.4,531.81 394.67,531.68 397.21,531.53 400.09,531.37 403.41,531.18 407.34,530.97 412.14,530.71 418.34,530.38 427.07,529.94 442,529.22" fill="rgba(88,140,182,0.33)" stroke="none"/>
<polyline points="233.2,542.5 340,534.5 369.3,530.5 379.2,526.6 389,522.7 396.9,517.8 399.8,515.8 403.8,507" fill="none" stroke="#8CC83C" stroke-width="6.3" stroke-linecap="round" stroke-linejoin="round"/>
<circle cx="442" cy="434.4" r="3.2" fill="#8CC83C"/><circle cx="427.07" cy="454.4" r="3.2" fill="#8CC83C"/><circle cx="418.34" cy="454.8" r="3.2" fill="#8CC83C"/><circle cx="412.14" cy="497.9" r="3.2" fill="#8CC83C"/><circle cx="407.34" cy="501.8" r="3.2" fill="#8CC83C"/><circle cx="403.41" cy="506.7" r="3.2" fill="#8CC83C"/>
<polygon points="442,522.84 427.07,525.87 418.34,527.18 412.14,527.98 407.34,528.56 403.41,529 400.09,529.36 397.21,529.66 394.67,529.92 392.4,530.15 390.35,530.35 388.48,530.53 386.75,530.69 385.16,530.84 383.67,530.98 382.28,531.11 380.97,531.23 378.58,531.45 377.47,531.55 375.42,531.73 373.55,531.9 371.82,532.05 370.23,532.18 368.03,532.37 366.69,532.49 364.81,532.65 363.09,532.79 361.49,532.93 359.53,533.09 357.74,533.24 356.08,533.37 354.17,533.53 352.42,533.67 350.8,533.8 349,533.95 347.08,534.1 345.56,534.23 343.68,534.38 341.96,534.51 340.17,534.65 338.35,534.8 336.66,534.93 334.95,535.06 333.23,535.2 331.37,535.34 329.67,535.48 327.87,535.61 326.12,535.75 324.4,535.88 322.64,536.02 320.86,536.15 319.14,536.29 317.35,536.42 315.64,536.55 313.88,536.69 312.1,536.82 310.36,536.95 308.57,537.09 306.84,537.22 305.09,537.35 303.33,537.49 301.58,537.62 299.81,537.75 298.07,537.88 296.3,538.01 294.54,538.15 292.78,538.28 291.03,538.41 289.28,538.54 287.52,538.67 285.76,538.8 284.02,538.93 282.25,539.06 280.5,539.19 278.74,539.32 276.99,539.45 275.23,539.58 273.48,539.71 271.72,539.84 269.97,539.97 268.21,540.1 266.45,540.23 264.7,540.36 262.94,540.49 261.19,540.62 259.43,540.75 257.68,540.88 255.92,541.01 254.17,541.14 252.41,541.27 250.65,541.4 248.9,541.53 247.14,541.66 245.39,541.79 243.63,541.92 241.88,542.05 240.12,542.18 238.37,542.31 236.61,542.44 234.86,542.57 233.1,542.7 233.1,542.7 234.86,542.58 236.61,542.45 238.37,542.33 240.12,542.2 241.88,542.08 243.63,541.95 245.39,541.82 247.14,541.7 248.9,541.57 250.65,541.44 252.41,541.32 254.17,541.19 255.92,541.07 257.68,540.94 259.43,540.81 261.19,540.69 262.94,540.56 264.7,540.44 266.45,540.31 268.21,540.19 269.97,540.06 271.72,539.93 273.48,539.81 275.23,539.68 276.99,539.56 278.74,539.43 280.5,539.31 282.25,539.18 284.02,539.06 285.76,538.93 287.52,538.81 289.28,538.68 291.03,538.56 292.78,538.43 294.54,538.31 296.3,538.18 298.07,538.06 299.81,537.94 301.58,537.81 303.33,537.69 305.09,537.56 306.84,537.44 308.57,537.32 310.36,537.19 312.1,537.07 313.88,536.95 315.64,536.83 317.35,536.71 319.14,536.58 320.86,536.46 322.64,536.34 324.4,536.22 326.12,536.1 327.87,535.98 329.67,535.85 331.37,535.74 333.23,535.61 334.95,535.49 336.66,535.38 338.35,535.26 340.17,535.14 341.96,535.02 343.68,534.9 345.56,534.78 347.08,534.67 349,534.55 350.8,534.43 352.42,534.32 354.17,534.2 356.08,534.08 357.74,533.97 359.53,533.85 361.49,533.73 363.09,533.62 364.81,533.51 366.69,533.39 368.03,533.31 370.23,533.17 371.82,533.07 373.55,532.96 375.42,532.84 377.47,532.71 378.58,532.64 380.97,532.5 382.28,532.42 383.67,532.33 385.16,532.24 386.75,532.15 388.48,532.04 390.35,531.93 392.4,531.81 394.67,531.68 397.21,531.53 400.09,531.37 403.41,531.18 407.34,530.97 412.14,530.71 418.34,530.38 427.07,529.94 442,529.22" fill="rgba(88,140,182,0.33)" stroke="none"/>
<polyline points="233.2,542.5 340,534.5 355,531.5 359.5,529.4 369.3,520.5 379.2,510.9 387,507.9 394.9,505 402.8,500.8" fill="none" stroke="#A020F0" stroke-width="6.3" stroke-linecap="round" stroke-linejoin="round"/>
<circle cx="442" cy="324.4" r="3.2" fill="#A020F0"/><circle cx="427.07" cy="361.3" r="3.2" fill="#A020F0"/><circle cx="418.34" cy="457.1" r="3.2" fill="#A020F0"/><circle cx="412.14" cy="467.4" r="3.2" fill="#A020F0"/><circle cx="407.34" cy="475.6" r="3.2" fill="#A020F0"/><circle cx="403.41" cy="500.8" r="3.2" fill="#A020F0"/>
<polygon points="442,522.84 427.07,525.87 418.34,527.18 412.14,527.98 407.34,528.56 403.41,529 400.09,529.36 397.21,529.66 394.67,529.92 392.4,530.15 390.35,530.35 388.48,530.53 386.75,530.69 385.16,530.84 383.67,530.98 382.28,531.11 380.97,531.23 378.58,531.45 377.47,531.55 375.42,531.73 373.55,531.9 371.82,532.05 370.23,532.18 368.03,532.37 366.69,532.49 364.81,532.65 363.09,532.79 361.49,532.93 359.53,533.09 357.74,533.24 356.08,533.37 354.17,533.53 352.42,533.67 350.8,533.8 349,533.95 347.08,534.1 345.56,534.23 343.68,534.38 341.96,534.51 340.17,534.65 338.35,534.8 336.66,534.93 334.95,535.06 333.23,535.2 331.37,535.34 329.67,535.48 327.87,535.61 326.12,535.75 324.4,535.88 322.64,536.02 320.86,536.15 319.14,536.29 317.35,536.42 315.64,536.55 313.88,536.69 312.1,536.82 310.36,536.95 308.57,537.09 306.84,537.22 305.09,537.35 303.33,537.49 301.58,537.62 299.81,537.75 298.07,537.88 296.3,538.01 294.54,538.15 292.78,538.28 291.03,538.41 289.28,538.54 287.52,538.67 285.76,538.8 284.02,538.93 282.25,539.06 280.5,539.19 278.74,539.32 276.99,539.45 275.23,539.58 273.48,539.71 271.72,539.84 269.97,539.97 268.21,540.1 266.45,540.23 264.7,540.36 262.94,540.49 261.19,540.62 259.43,540.75 257.68,540.88 255.92,541.01 254.17,541.14 252.41,541.27 250.65,541.4 248.9,541.53 247.14,541.66 245.39,541.79 243.63,541.92 241.88,542.05 240.12,542.18 238.37,542.31 236.61,542.44 234.86,542.57 233.1,542.7 233.1,542.7 234.86,542.58 236.61,542.45 238.37,542.33 240.12,542.2 241.88,542.08 243.63,541.95 245.39,541.82 247.14,541.7 248.9,541.57 250.65,541.44 252.41,541.32 254.17,541.19 255.92,541.07 257.68,540.94 259.43,540.81 261.19,540.69 262.94,540.56 264.7,540.44 266.45,540.31 268.21,540.19 269.97,540.06 271.72,539.93 273.48,539.81 275.23,539.68 276.99,539.56 278.74,539.43 280.5,539.31 282.25,539.18 284.02,539.06 285.76,538.93 287.52,538.81 289.28,538.68 291.03,538.56 292.78,538.43 294.54,538.31 296.3,538.18 298.07,538.06 299.81,537.94 301.58,537.81 303.33,537.69 305.09,537.56 306.84,537.44 308.57,537.32 310.36,537.19 312.1,537.07 313.88,536.95 315.64,536.83 317.35,536.71 319.14,536.58 320.86,536.46 322.64,536.34 324.4,536.22 326.12,536.1 327.87,535.98 329.67,535.85 331.37,535.74 333.23,535.61 334.95,535.49 336.66,535.38 338.35,535.26 340.17,535.14 341.96,535.02 343.68,534.9 345.56,534.78 347.08,534.67 349,534.55 350.8,534.43 352.42,534.32 354.17,534.2 356.08,534.08 357.74,533.97 359.53,533.85 361.49,533.73 363.09,533.62 364.81,533.51 366.69,533.39 368.03,533.31 370.23,533.17 371.82,533.07 373.55,532.96 375.42,532.84 377.47,532.71 378.58,532.64 380.97,532.5 382.28,532.42 383.67,532.33 385.16,532.24 386.75,532.15 388.48,532.04 390.35,531.93 392.4,531.81 394.67,531.68 397.21,531.53 400.09,531.37 403.41,531.18 407.34,530.97 412.14,530.71 418.34,530.38 427.07,529.94 442,529.22" fill="rgba(88,140,182,0.33)" stroke="none"/>
<polygon points="442,522.84 427.07,525.87 418.34,527.18 412.14,527.98 407.34,528.56 403.41,529 400.09,529.36 397.21,529.66 394.67,529.92 392.4,530.15 390.35,530.35 388.48,530.53 386.75,530.69 385.16,530.84 383.67,530.98 382.28,531.11 380.97,531.23 378.58,531.45 377.47,531.55 375.42,531.73 373.55,531.9 371.82,532.05 370.23,532.18 368.03,532.37 366.69,532.49 364.81,532.65 363.09,532.79 361.49,532.93 359.53,533.09 357.74,533.24 356.08,533.37 354.17,533.53 352.42,533.67 350.8,533.8 349,533.95 347.08,534.1 345.56,534.23 343.68,534.38 341.96,534.51 340.17,534.65 338.35,534.8 336.66,534.93 334.95,535.06 333.23,535.2 331.37,535.34 329.67,535.48 327.87,535.61 326.12,535.75 324.4,535.88 322.64,536.02 320.86,536.15 319.14,536.29 317.35,536.42 315.64,536.55 313.88,536.69 312.1,536.82 310.36,536.95 308.57,537.09 306.84,537.22 305.09,537.35 303.33,537.49 301.58,537.62 299.81,537.75 298.07,537.88 296.3,538.01 294.54,538.15 292.78,538.28 291.03,538.41 289.28,538.54 287.52,538.67 285.76,538.8 284.02,538.93 282.25,539.06 280.5,539.19 278.74,539.32 276.99,539.45 275.23,539.58 273.48,539.71 271.72,539.84 269.97,539.97 268.21,540.1 266.45,540.23 264.7,540.36 262.94,540.49 261.19,540.62 259.43,540.75 257.68,540.88 255.92,541.01 254.17,541.14 252.41,541.27 250.65,541.4 248.9,541.53 247.14,541.66 245.39,541.79 243.63,541.92 241.88,542.05 240.12,542.18 238.37,542.31 236.61,542.44 234.86,542.57 233.1,542.7 233.1,542.7 234.86,542.58 236.61,542.45 238.37,542.33 240.12,542.2 241.88,542.08 243.63,541.95 245.39,541.82 247.14,541.7 248.9,541.57 250.65,541.44 252.41,541.32 254.17,541.19 255.92,541.07 257.68,540.94 259.43,540.81 261.19,540.69 262.94,540.56 264.7,540.44 266.45,540.31 268.21,540.19 269.97,540.06 271.72,539.93 273.48,539.81 275.23,539.68 276.99,539.56 278.74,539.43 280.5,539.31 282.25,539.18 284.02,539.06 285.76,538.93 287.52,538.81 289.28,538.68 291.03,538.56 292.78,538.43 294.54,538.31 296.3,538.18 298.07,538.06 299.81,537.94 301.58,537.81 303.33,537.69 305.09,537.56 306.84,537.44 308.57,537.32 310.36,537.19 312.1,537.07 313.88,536.95 315.64,536.83 317.35,536.71 319.14,536.58 320.86,536.46 322.64,536.34 324.4,536.22 326.12,536.1 327.87,535.98 329.67,535.85 331.37,535.74 333.23,535.61 334.95,535.49 336.66,535.38 338.35,535.26 340.17,535.14 341.96,535.02 343.68,534.9 345.56,534.78 347.08,534.67 349,534.55 350.8,534.43 352.42,534.32 354.17,534.2 356.08,534.08 357.74,533.97 359.53,533.85 361.49,533.73 363.09,533.62 364.81,533.51 366.69,533.39 368.03,533.31 370.23,533.17 371.82,533.07 373.55,532.96 375.42,532.84 377.47,532.71 378.58,532.64 380.97,532.5 382.28,532.42 383.67,532.33 385.16,532.24 386.75,532.15 388.48,532.04 390.35,531.93 392.4,531.81 394.67,531.68 397.21,531.53 400.09,531.37 403.41,531.18 407.34,530.97 412.14,530.71 418.34,530.38 427.07,529.94 442,529.22" fill="rgba(88,140,182,0.33)" stroke="#12B4F4" stroke-width="1.1"/>
<polyline points="233.2,542.5 290.7,538 345.4,533.8 359.5,532 367.4,526.6 375.2,522.7 385.1,517.7 394.9,512.8 399.8,509.7 403.8,503" fill="none" stroke="#00BFFF" stroke-width="6.3" stroke-linecap="round" stroke-linejoin="round"/>
<circle cx="442" cy="325.9" r="3.2" fill="#00BFFF"/><circle cx="427.07" cy="340.7" r="3.2" fill="#00BFFF"/><circle cx="418.34" cy="398.2" r="3.2" fill="#00BFFF"/><circle cx="412.14" cy="487.4" r="3.2" fill="#00BFFF"/><circle cx="407.34" cy="492" r="3.2" fill="#00BFFF"/><circle cx="403.41" cy="503" r="3.2" fill="#00BFFF"/>
</g>
<rect x="223.5" y="314" width="267.7" height="237.2" fill="none" stroke="#262626" stroke-width="1.5"/>
<line x1="233.1" y1="551.2" x2="233.1" y2="559.8" stroke="#262626" stroke-width="1.5"/>
<text class="t" x="233.1" y="578.2" font-size="12.2" text-anchor="middle">0</text>
<line x1="282.7" y1="551.2" x2="282.7" y2="559.8" stroke="#262626" stroke-width="1.5"/>
<text class="t" x="282.7" y="578.2" font-size="12.2" text-anchor="middle">1</text>
<line x1="332.3" y1="551.2" x2="332.3" y2="559.8" stroke="#262626" stroke-width="1.5"/>
<text class="t" x="332.3" y="578.2" font-size="12.2" text-anchor="middle">2</text>
<line x1="381.9" y1="551.2" x2="381.9" y2="559.8" stroke="#262626" stroke-width="1.5"/>
<text class="t" x="381.9" y="578.2" font-size="12.2" text-anchor="middle">3</text>
<line x1="431.5" y1="551.2" x2="431.5" y2="559.8" stroke="#262626" stroke-width="1.5"/>
<text class="t" x="431.5" y="578.2" font-size="12.2" text-anchor="middle">4</text>
<line x1="481.1" y1="551.2" x2="481.1" y2="559.8" stroke="#262626" stroke-width="1.5"/>
<text class="t" x="481.1" y="578.2" font-size="12.2" text-anchor="middle">5</text>
<line x1="214.9" y1="542.7" x2="223.5" y2="542.7" stroke="#262626" stroke-width="1.5"/>
<text class="t" x="208.2" y="547.3" font-size="12.2" text-anchor="end">0</text>
<line x1="214.9" y1="506.6" x2="223.5" y2="506.6" stroke="#262626" stroke-width="1.5"/>
<text class="t" x="208.2" y="511.2" font-size="12.2" text-anchor="end">10</text>
<line x1="214.9" y1="470.5" x2="223.5" y2="470.5" stroke="#262626" stroke-width="1.5"/>
<text class="t" x="208.2" y="475.1" font-size="12.2" text-anchor="end">20</text>
<line x1="214.9" y1="434.4" x2="223.5" y2="434.4" stroke="#262626" stroke-width="1.5"/>
<text class="t" x="208.2" y="439" font-size="12.2" text-anchor="end">30</text>
<line x1="214.9" y1="398.3" x2="223.5" y2="398.3" stroke="#262626" stroke-width="1.5"/>
<text class="t" x="208.2" y="402.9" font-size="12.2" text-anchor="end">40</text>
<line x1="214.9" y1="362.2" x2="223.5" y2="362.2" stroke="#262626" stroke-width="1.5"/>
<text class="t" x="208.2" y="366.8" font-size="12.2" text-anchor="end">50</text>
<line x1="214.9" y1="326.1" x2="223.5" y2="326.1" stroke="#262626" stroke-width="1.5"/>
<text class="t" x="208.2" y="330.7" font-size="12.2" text-anchor="end">60</text>
<g class="t" font-size="12.0" transform="translate(303.35,604.5)"><text x="-0.98" y="0">Expected</text><text x="56.31" y="0">−</text><text x="64" y="0">log</text><text x="80.85" y="2.3" font-size="8.6">10</text><text x="90.86" y="0">(</text><text x="95.7" y="0" font-style="italic">p</text><text x="104.45" y="0">)</text></g>
<g class="t" font-size="12.0" transform="translate(172.6,488.7) rotate(-90)"><text x="-0.56" y="0">Observed</text><text x="58.31" y="0">−</text><text x="66" y="0">log</text><text x="82.85" y="2.3" font-size="8.6">10</text><text x="92.86" y="0">(</text><text x="97.7" y="0" font-style="italic">p</text><text x="106.45" y="0">)</text></g>
<circle cx="234.3" cy="328.8" r="3.2" fill="#FFB412"/>
<text class="s" font-size="12.2" transform="translate(244.9,333) scale(1.03,1)">CMLM</text>
<circle cx="234.3" cy="343.53" r="3.2" fill="#8CC83C"/>
<text class="s" font-size="12.2" transform="translate(244.9,347.73) scale(1.03,1)">MLMM</text>
<circle cx="234.3" cy="358.26" r="3.2" fill="#A020F0"/>
<text class="s" font-size="12.2" transform="translate(244.9,362.46) scale(1.03,1)">BLINK</text>
<circle cx="234.3" cy="372.99" r="3.2" fill="#00BFFF"/>
<text class="s" font-size="12.2" transform="translate(244.9,377.19) scale(1.03,1)">FarmCPU</text>
<text class="s" x="173.8" y="326.3" font-size="17" font-weight="bold">c</text>
</svg></body></html>
